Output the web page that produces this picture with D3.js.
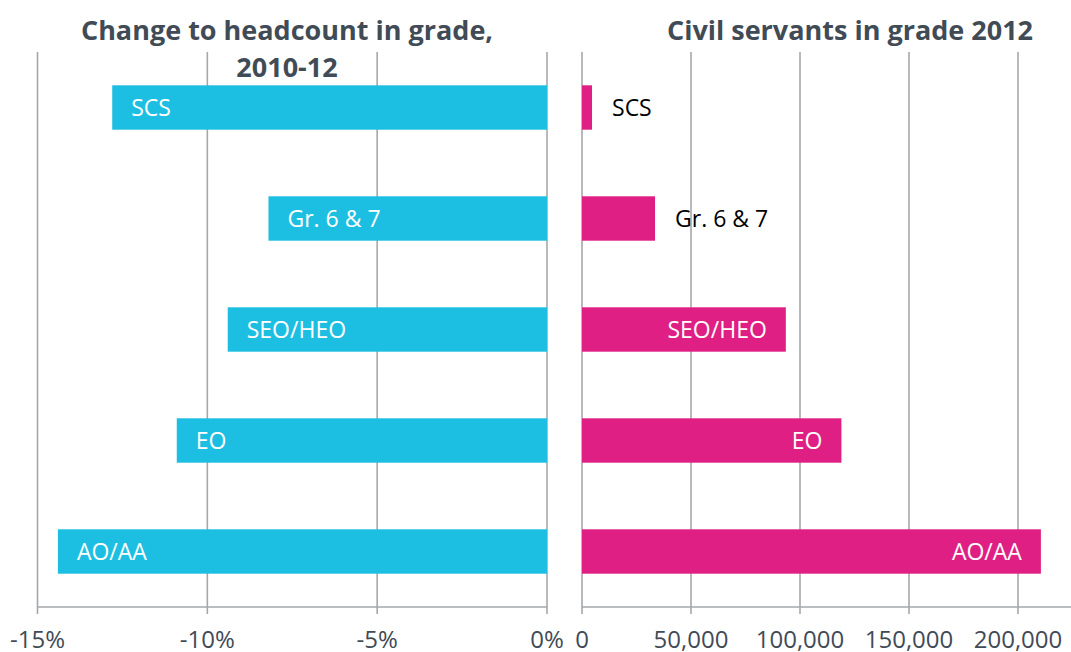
<!DOCTYPE html>
<html>
<head>
<meta charset="utf-8">
<script src="https://cdn.jsdelivr.net/npm/d3@7"></script>
<style>
  body { margin: 0; background: #fff; }
  svg text { font-family: "Open Sans", "Liberation Sans", sans-serif; }
</style>
</head>
<body>
<div id="chart"></div>
<script>
// Grades, top to bottom
var grades = ["SCS", "Gr. 6 & 7", "SEO/HEO", "EO", "AO/AA"];
// Change to headcount 2010-12 (%)
var changePct = [-12.8, -8.2, -9.4, -10.9, -14.4];
// Civil servants in grade 2012
var headcount = [4600, 33500, 93500, 119000, 210500];
// Tick values
var pctTicks = [-15, -10, -5, 0];
var countTicks = [0, 50000, 100000, 150000, 200000];

var W = 1071, H = 652;
var plotTop = 52, plotBottom = 607;
var gridColor = "#a5a8ab", textColor = "#414b56";
var blue = "#1cbfe2", pink = "#e01f84";

var svg = d3.select("#chart").append("svg")
    .attr("width", W).attr("height", H);

var y = d3.scaleBand()
    .domain(grades)
    .range([plotTop, plotBottom])
    .paddingInner(0.6)
    .paddingOuter(0.3);

// Left panel: percentage change
var xL = d3.scaleLinear().domain([-15, 0]).range([37.5, 547]);
// Right panel: headcount
var xR = d3.scaleLinear().domain([0, 200000]).range([582, 1018]);

function drawPanel(x, ticks, fmt, x0, x1) {
    var g = svg.append("g");
    // gridlines
    g.selectAll(".grid")
        .data(ticks)
        .enter().append("line")
        .attr("x1", function(d) { return x(d); })
        .attr("x2", function(d) { return x(d); })
        .attr("y1", plotTop).attr("y2", plotBottom + 7)
        .attr("stroke", gridColor).attr("stroke-width", 1.6);
    // axis line
    g.append("line")
        .attr("x1", x0).attr("x2", x1)
        .attr("y1", plotBottom).attr("y2", plotBottom)
        .attr("stroke", gridColor).attr("stroke-width", 1.6);
    // tick labels
    g.selectAll(".tl")
        .data(ticks)
        .enter().append("text")
        .attr("x", function(d) { return x(d); })
        .attr("y", 648)
        .attr("text-anchor", "middle")
        .attr("fill", textColor)
        .style("font-size", "24px")
        .text(fmt);
    return g;
}

drawPanel(xL, pctTicks, function(d) { return d + "%"; }, xL(-15), xL(0));
drawPanel(xR, countTicks, d3.format(","), xR(0), W);

// Left bars
svg.append("g").selectAll("rect")
    .data(grades)
    .enter().append("rect")
    .attr("x", function(d, i) { return xL(changePct[i]); })
    .attr("y", function(d) { return y(d); })
    .attr("width", function(d, i) { return xL(0) - xL(changePct[i]); })
    .attr("height", y.bandwidth())
    .attr("fill", blue);

svg.append("g").selectAll("text")
    .data(grades)
    .enter().append("text")
    .attr("x", function(d, i) { return xL(changePct[i]) + 19; })
    .attr("y", function(d) { return y(d) + y.bandwidth() / 2; })
    .attr("dy", "0.36em")
    .attr("fill", "#fff")
    .style("font-size", "23px")
    .text(function(d) { return d; });

// Right bars
svg.append("g").selectAll("rect")
    .data(grades)
    .enter().append("rect")
    .attr("x", xR(0))
    .attr("y", function(d) { return y(d); })
    .attr("width", function(d, i) { return xR(headcount[i]) - xR(0); })
    .attr("height", y.bandwidth())
    .attr("fill", pink);

// labels go outside short bars, inside long ones
svg.append("g").selectAll("text")
    .data(grades)
    .enter().append("text")
    .attr("x", function(d, i) {
        var end = xR(headcount[i]);
        return headcount[i] < 50000 ? end + 20 : end - 19;
    })
    .attr("y", function(d) { return y(d) + y.bandwidth() / 2; })
    .attr("dy", "0.36em")
    .attr("text-anchor", function(d, i) { return headcount[i] < 50000 ? "start" : "end"; })
    .attr("fill", function(d, i) { return headcount[i] < 50000 ? "#000" : "#fff"; })
    .style("font-size", "23px")
    .text(function(d) { return d; });

// Titles
var titles = svg.append("g")
    .attr("fill", textColor)
    .style("font-size", "27px")
    .style("font-weight", "bold")
    .attr("text-anchor", "middle");
titles.append("text").attr("x", 287).attr("y", 40).text("Change to headcount in grade,");
titles.append("text").attr("x", 287).attr("y", 77).text("2010-12");
titles.append("text").attr("x", 850).attr("y", 40).text("Civil servants in grade 2012");
</script>
</body>
</html>
